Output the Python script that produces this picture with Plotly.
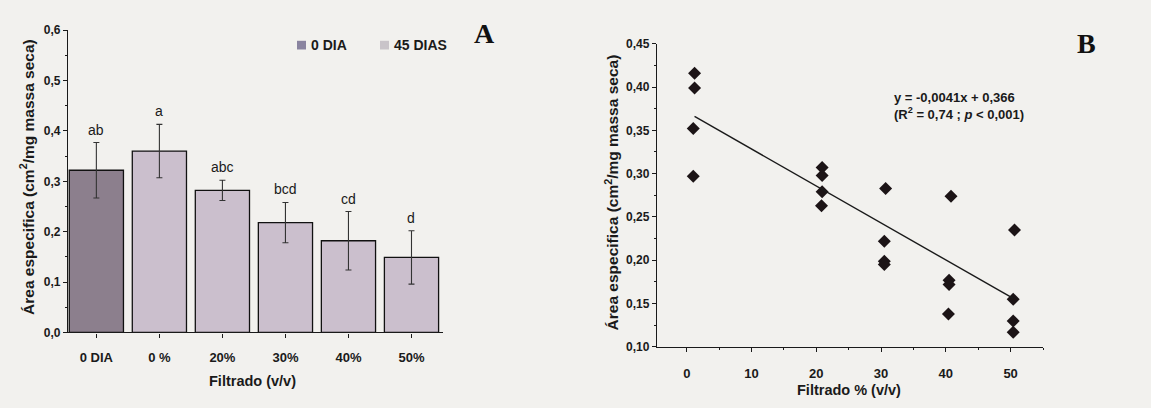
import plotly.graph_objects as go

# ---------- Data: panel A ----------
categories = ["0 DIA", "0 %", "20%", "30%", "40%", "50%"]
area_means = [0.322, 0.360, 0.282, 0.218, 0.182, 0.149]
area_errors = [0.055, 0.053, 0.020, 0.040, 0.058, 0.053]
letters = ["ab", "a", "abc", "bcd", "cd", "d"]
a_yticks = [0.0, 0.1, 0.2, 0.3, 0.4, 0.5, 0.6]
a_yticklabels = ["0,0", "0,1", "0,2", "0,3", "0,4", "0,5", "0,6"]

# ---------- Data: panel B ----------
filt_x = [1.2, 1.2, 1.0, 1.0,
          20.9, 20.9, 20.9, 20.8,
          30.7, 30.5, 30.5, 30.5,
          40.8, 40.5, 40.5, 40.4,
          50.6, 50.4, 50.4, 50.4]
filt_y = [0.416, 0.399, 0.352, 0.297,
          0.307, 0.298, 0.279, 0.263,
          0.283, 0.222, 0.199, 0.195,
          0.274, 0.177, 0.172, 0.138,
          0.235, 0.155, 0.130, 0.117]
fit_x = [1.2, 50.4]
fit_y = [0.366, 0.156]
b_xticks = [0, 10, 20, 30, 40, 50]
b_yticks = [0.10, 0.15, 0.20, 0.25, 0.30, 0.35, 0.40, 0.45]
b_yticklabels = ["0,10", "0,15", "0,20", "0,25", "0,30", "0,35", "0,40", "0,45"]

W, H = 1151, 408
FONT = "Arial, Liberation Sans, sans-serif"
SERIF = "Times New Roman, Liberation Serif, serif"
INK = "#1a1a1a"
BG = "#f2f1ee"
DARK_BAR = "#8c7f8d"
LIGHT_BAR = "#cbbfcd"

bar_colors = [DARK_BAR] + [LIGHT_BAR] * (len(categories) - 1)

fig = go.Figure()

fig.add_trace(go.Bar(
    x=categories, y=area_means,
    marker=dict(color=bar_colors, line=dict(color="#111111", width=1.3)),
    width=0.86,
    error_y=dict(type="data", array=area_errors, visible=True,
                 color="#333333", thickness=1.1, width=3),
    showlegend=False, xaxis="x", yaxis="y",
))

# letters above error bars
for c, m, e, t in zip(categories, area_means, area_errors, letters):
    fig.add_annotation(x=c, y=m + e, text=t, xref="x", yref="y",
                       xanchor="center", yanchor="bottom", yshift=3,
                       showarrow=False,
                       font=dict(family=FONT, size=14, color=INK))

fig.add_trace(go.Scatter(
    x=filt_x, y=filt_y, mode="markers",
    marker=dict(symbol="diamond", size=10, color="#1c1416"),
    showlegend=False, xaxis="x2", yaxis="y2",
))
fig.add_trace(go.Scatter(
    x=fit_x, y=fit_y, mode="lines",
    line=dict(color=INK, width=1.4),
    showlegend=False, xaxis="x2", yaxis="y2",
))

xtickfont = dict(family=FONT, size=13, color=INK, weight="bold")
ytickfont = dict(family=FONT, size=12, color=INK, weight="bold")
axis_common = dict(showline=True, linecolor=INK, linewidth=1.4,
                   ticks="outside", tickcolor=INK, tickwidth=1.2,
                   ticklen=4, showgrid=False, zeroline=False)

fig.update_layout(
    width=W, height=H,
    margin=dict(l=0, r=0, t=0, b=0),
    paper_bgcolor=BG, plot_bgcolor=BG,
    xaxis=dict(domain=[68 / W, 443 / W], range=[-0.45, 5.5],
               anchor="y", type="category", tickfont=xtickfont,
               ticklabelstandoff=9, **axis_common),
    yaxis=dict(domain=[1 - 337 / H, 1 - 24 / H], range=[0, 0.6],
               anchor="x", tickvals=a_yticks, ticktext=a_yticklabels,
               tickfont=ytickfont,
               minor=dict(dtick=0.05, ticks="outside", ticklen=2,
                          tickcolor=INK),
               **axis_common),
    xaxis2=dict(domain=[657 / W, 1043 / W], range=[-4.6, 55],
                anchor="y2", tickvals=b_xticks, tickfont=xtickfont,
                ticklabelstandoff=10,
                minor=dict(dtick=5, ticks="outside", ticklen=2,
                           tickcolor=INK),
                **axis_common),
    yaxis2=dict(domain=[1 - 352 / H, 1 - 38 / H], range=[0.10, 0.45],
                anchor="x2", tickvals=b_yticks, ticktext=b_yticklabels,
                tickfont=ytickfont,
                minor=dict(dtick=0.025, ticks="outside", ticklen=2,
                           tickcolor=INK),
                **axis_common),
)

title_font = dict(family=FONT, size=14.5, color=INK, weight="bold")
ytitle_font = dict(family=FONT, size=15.5, color=INK, weight="bold")


def paper_text(px, py, text, font, angle=0, xanchor="center"):
    fig.add_annotation(x=px / W, y=1 - py / H, xref="paper", yref="paper",
                       xanchor=xanchor, yanchor="middle", text=text,
                       textangle=angle, showarrow=False, font=font)


# axis titles
paper_text(27, 176, "Área especifica (cm<sup>2</sup>/mg massa seca)",
           ytitle_font, angle=-90)
paper_text(252, 387, "Filtrado (v/v)", title_font)
paper_text(612, 192, "Área especifica (cm<sup>2</sup>/mg massa seca)",
           ytitle_font, angle=-90)
paper_text(849, 397, "Filtrado % (v/v)", title_font)

# panel letters
paper_text(484, 27, "<b>A</b>", dict(family=SERIF, size=28, color="#111111"))
paper_text(1086, 38, "<b>B</b>", dict(family=SERIF, size=28, color="#111111"))

# regression equation
fig.add_annotation(x=892 / W, y=1 - 103 / H, xref="paper", yref="paper",
                   xanchor="left", yanchor="middle", align="left",
                   text="y = -0,0041x + 0,366<br>(R<sup>2</sup> = 0,74 ; <i>p</i> < 0,001)",
                   showarrow=False,
                   font=dict(family=FONT, size=13, color=INK, weight="bold"))

# manual legend for panel A
legend_items = [("0 DIA", "#8a84a0", 297), ("45 DIAS", "#c9c4c9", 380)]
for label, col, px in legend_items:
    fig.add_shape(type="rect", xref="paper", yref="paper",
                  x0=px / W, x1=(px + 9) / W,
                  y0=1 - 44 / H, y1=1 - 35 / H,
                  fillcolor=col, line=dict(width=0))
    paper_text(px + 12, 39, label,
               dict(family=FONT, size=14, color=INK, weight="bold"),
               xanchor="left")

fig.write_html("out.html")
